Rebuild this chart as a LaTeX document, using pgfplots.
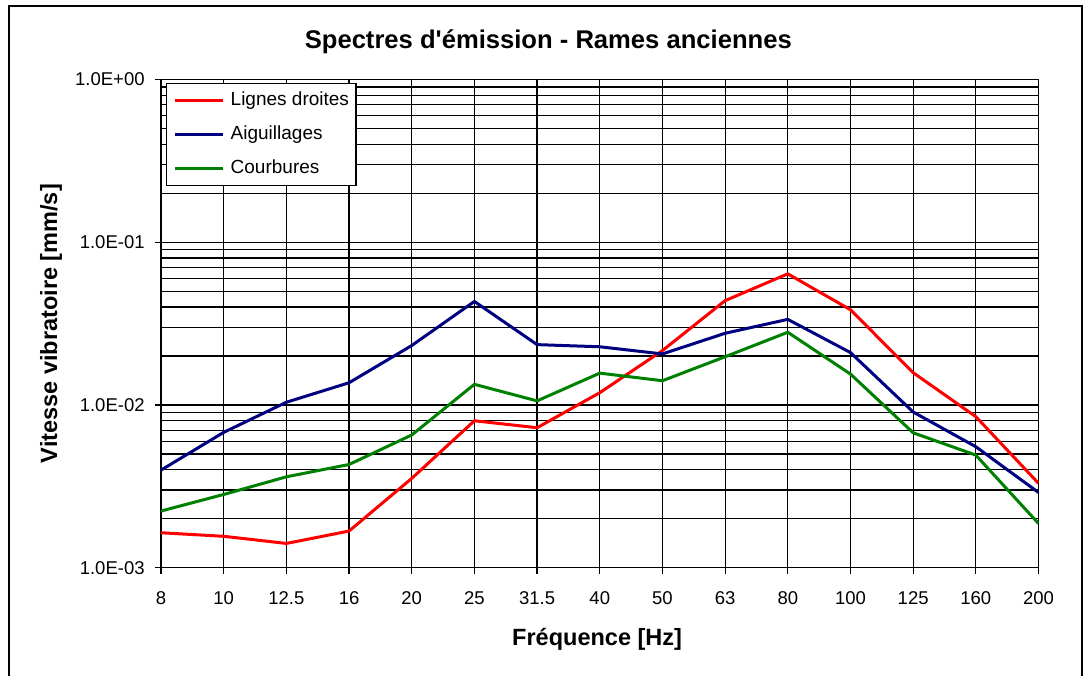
\documentclass[border=0pt]{standalone}
\usepackage{fontspec}
\setmainfont{Liberation Sans}
\usepackage{pgfplots}
\pgfplotsset{compat=1.18}
\definecolor{serRed}{HTML}{FF0000}
\definecolor{serBlue}{HTML}{000080}
\definecolor{serGreen}{HTML}{008000}
\begin{document}
\begin{tikzpicture}
\useasboundingbox (0,0) rectangle (545pt,337.5pt);
\fill[white] (0,0) rectangle (545pt,337.5pt);
\draw[line width=1pt] (4.5pt,-10pt) -- (4.5pt,334.5pt) -- (541pt,334.5pt) -- (541pt,-10pt);
\node[font=\bfseries\fontsize{12.8}{15}\selectfont, anchor=base] at (274.15pt,313.35pt) {Spectres d\textquotesingle émission - Rames anciennes};
\begin{axis}[
  at={(80.5pt,53.65pt)}, anchor=south west,
  scale only axis, width=438.75pt, height=244.05pt,
  xmin=0, xmax=14,
  ymode=log, ymin=1e-3, ymax=1,
  xtick={0,...,14},
  xticklabels={8,10,12.5,16,20,25,31.5,40,50,63,80,100,125,160,200},
  ytick={0.001,0.01,0.1,1},
  yticklabels={1.0E-03,1.0E-02,1.0E-01,1.0E+00},
  /pgf/number format/assume math mode=true,
  xtick pos=bottom, ytick pos=left,
  tick align=outside, major tick length=3pt, minor tick length=0pt,
  tick style={black, line width=0.6pt},
  xmajorgrids, ymajorgrids, yminorgrids,
  major grid style={black, line width=0.6pt},
  minor grid style={black, line width=0.6pt},
  axis line style={black, line width=0.6pt},
  tick label style={font=\fontsize{9.25}{11}\selectfont},
  xticklabel style={anchor=base, inner sep=0pt, yshift=-15.3pt},
  yticklabel style={anchor=east, inner sep=0pt, xshift=-5pt},
  xlabel={Fréquence [Hz]},
  ylabel={Vitesse vibratoire [mm/s]},
  label style={font=\bfseries\fontsize{11.75}{14}\selectfont},
  xlabel style={at={(axis description cs:0.497,-0.1584)}, anchor=base, inner sep=0pt},
  ylabel style={at={(axis description cs:-0.1185,0.5)}, anchor=base, rotate=0, inner sep=0pt},
  legend style={at={(axis description cs:0.00536,0.9936)}, anchor=north west,
    draw=black, line width=0.6pt, fill=white,
    font=\fontsize{9.5}{11}\selectfont,
    inner xsep=3.5pt, inner ysep=4pt, row sep=8.1pt, column sep=3.2pt,
    nodes={inner sep=0pt, text height=7pt, text depth=2pt, anchor=west}},
  legend cell align=left,
  legend image code/.code={\draw[#1] (0pt,0pt) -- (24pt,0pt);},
]
\addplot[serRed, line width=1.5pt] coordinates {
(0,1.64e-3) (1,1.56e-3) (2,1.41e-3) (3,1.68e-3) (4,3.54e-3) (5,8.0e-3) (6,7.25e-3) (7,1.19e-2) (8,2.16e-2) (9,4.38e-2) (10,6.4e-2) (11,3.85e-2) (12,1.58e-2) (13,8.48e-3) (14,3.3e-3)};
\addlegendentry{Lignes droites}
\addplot[serBlue, line width=1.5pt] coordinates {
(0,3.98e-3) (1,6.79e-3) (2,1.04e-2) (3,1.37e-2) (4,2.32e-2) (5,4.33e-2) (6,2.35e-2) (7,2.28e-2) (8,2.06e-2) (9,2.76e-2) (10,3.36e-2) (11,2.10e-2) (12,9.06e-3) (13,5.54e-3) (14,2.90e-3)};
\addlegendentry{Aiguillages}
\addplot[serGreen, line width=1.5pt] coordinates {
(0,2.23e-3) (1,2.82e-3) (2,3.62e-3) (3,4.31e-3) (4,6.54e-3) (5,1.34e-2) (6,1.06e-2) (7,1.57e-2) (8,1.41e-2) (9,1.98e-2) (10,2.80e-2) (11,1.55e-2) (12,6.75e-3) (13,4.92e-3) (14,1.87e-3)};
\addlegendentry{Courbures}
\end{axis}
\end{tikzpicture}
\end{document}
